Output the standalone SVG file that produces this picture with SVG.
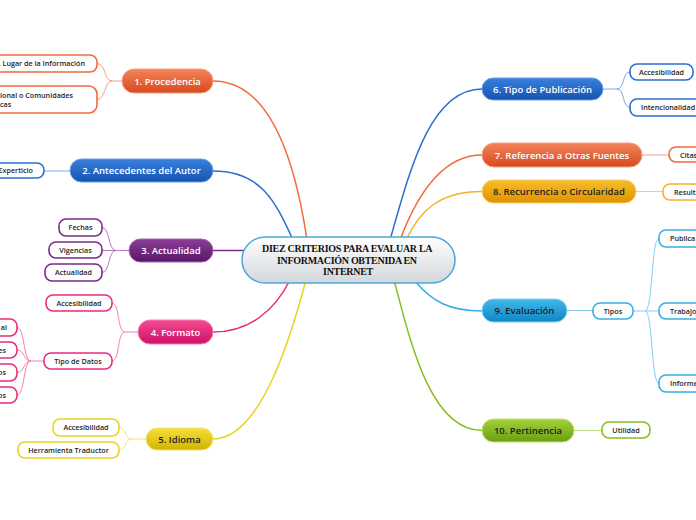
<svg xmlns="http://www.w3.org/2000/svg" width="696" height="520" viewBox="0 0 696 520">
<defs>
<linearGradient id="gOr" x1="0" y1="0" x2="0" y2="1"><stop offset="0" stop-color="#f3845a"/><stop offset="1" stop-color="#d9481f"/></linearGradient>
<linearGradient id="gBl" x1="0" y1="0" x2="0" y2="1"><stop offset="0" stop-color="#3a80dc"/><stop offset="1" stop-color="#1552b2"/></linearGradient>
<linearGradient id="gPu" x1="0" y1="0" x2="0" y2="1"><stop offset="0" stop-color="#8c3e98"/><stop offset="1" stop-color="#5a1565"/></linearGradient>
<linearGradient id="gPk" x1="0" y1="0" x2="0" y2="1"><stop offset="0" stop-color="#f24c92"/><stop offset="1" stop-color="#cf0f68"/></linearGradient>
<linearGradient id="gYe" x1="0" y1="0" x2="0" y2="1"><stop offset="0" stop-color="#f6df3a"/><stop offset="1" stop-color="#d3b300"/></linearGradient>
<linearGradient id="gAm" x1="0" y1="0" x2="0" y2="1"><stop offset="0" stop-color="#f8bd2a"/><stop offset="1" stop-color="#df9200"/></linearGradient>
<linearGradient id="gLb" x1="0" y1="0" x2="0" y2="1"><stop offset="0" stop-color="#42b8ec"/><stop offset="1" stop-color="#0d86c6"/></linearGradient>
<linearGradient id="gGr" x1="0" y1="0" x2="0" y2="1"><stop offset="0" stop-color="#a2d23a"/><stop offset="1" stop-color="#6c9e12"/></linearGradient>
<linearGradient id="gCe" x1="0" y1="0" x2="0" y2="1"><stop offset="0" stop-color="#ffffff"/><stop offset="1" stop-color="#d3d7da"/></linearGradient>
</defs>
<style>
.main text{font-family:"Open Sans","Noto Sans",sans-serif;font-weight:600;font-size:9.5px;text-anchor:middle}
.w{fill:#ffffff}
.d{fill:#1e1e1e}
.sub rect{fill:#ffffff;stroke-width:1.6}
.sub text{font-family:"Open Sans","Noto Sans",sans-serif;font-weight:600;font-size:7.2px;fill:#1e1e1e;text-anchor:middle}
.conn path{fill:none}
.m{stroke-width:1.5}
.s{stroke-width:1}
</style>

<g id="connectors" class="conn">
<path class="m" stroke="#f26a3b" d="M213,81 C270,81 295,160 307,240"/>
<path class="m" stroke="#2a6fd0" d="M213,171 C260,171 275,200 293,240"/>
<path class="m" stroke="#7a2a86" d="M213,250.5 H245"/>
<path class="m" stroke="#ea2a7e" d="M213,332 C250,332 275,310 290,280"/>
<path class="m" stroke="#e8d420" d="M213,439 C260,439 290,340 306,280"/>
<path class="m" stroke="#2a6fd0" d="M482,89 C430,89 410,170 390,240"/>
<path class="m" stroke="#f26a3b" d="M482,155 C440,155 415,200 400,240"/>
<path class="m" stroke="#f2b22a" d="M482,191.5 C440,191.5 420,210 406,240"/>
<path class="m" stroke="#36aee6" d="M482,311 C450,311 432,302 414,280"/>
<path class="m" stroke="#88bc22" d="M482,430.5 C430,430.5 410,340 394,280"/>

<g stroke="#f6a084">
<path class="s" d="M122,81 H112 C104,81 106,63.5 97,63.5"/>
<path class="s" d="M112,81 C104,81 106,99.5 97,99.5"/>
<path class="s" d="M642,155 H669"/>
</g>
<path class="s" stroke="#7ea6e6" d="M70,171 H44"/>
<g stroke="#b47cc0">
<path class="s" d="M129,250.5 H116 C108,250.5 110,227.5 102,227.5"/>
<path class="s" d="M116,250.5 H102"/>
<path class="s" d="M116,250.5 C108,250.5 110,272.5 102,272.5"/>
</g>
<g stroke="#f57fb0">
<path class="s" d="M138,332 H125 C117,332 120,303 112,303"/>
<path class="s" d="M125,332 C117,332 120,361 112,361"/>
<path class="s" d="M44,361 H31 C23,361 25,327.5 17,327.5"/>
<path class="s" d="M31,361 C23,361 25,350 17,350"/>
<path class="s" d="M31,361 C23,361 25,372.5 17,372.5"/>
<path class="s" d="M31,361 C23,361 25,395 17,395"/>
</g>
<g stroke="#f0e27a">
<path class="s" d="M146,439 H132 C124,439 127,427.5 119,427.5"/>
<path class="s" d="M132,439 C124,439 127,450 119,450"/>
</g>
<g stroke="#7ea6e6">
<path class="s" d="M603,89 H617 C625,89 622,72 630,72"/>
<path class="s" d="M617,89 C625,89 622,107.5 630,107.5"/>
</g>
<path class="s" stroke="#f8cc70" d="M636,191.5 H663"/>
<g stroke="#86cff0">
<path class="s" d="M567,310.5 H593"/>
<path class="s" d="M633,311 H645 C653,311 651,238.5 659,238.5"/>
<path class="s" d="M645,311 H659"/>
<path class="s" d="M645,311 C653,311 651,383.5 659,383.5"/>
</g>
<path class="s" stroke="#bcdc80" d="M574,430.5 H602"/>
</g>

<g id="center">
<rect x="242" y="237" width="213" height="46" rx="23" fill="url(#gCe)" stroke="#4aa6dc" stroke-width="1.5"/>
<text font-family="'Liberation Serif',serif" font-weight="bold" font-size="10px" letter-spacing="-0.3" fill="#111" text-anchor="middle">
<tspan x="348" y="252">DIEZ CRITERIOS PARA EVALUAR LA</tspan>
<tspan x="348" y="263.5">INFORMACIÓN OBTENIDA EN</tspan>
<tspan x="348" y="275">INTERNET</tspan>
</text>
</g>

<g id="n1" class="main"><rect x="122" y="69" width="91" height="24" rx="12" fill="url(#gOr)" stroke="#f6a080" stroke-width="1"/><text class="w" x="167.5" y="84.5">1. Procedencia</text></g>
<g id="n2" class="main"><rect x="70" y="159" width="143" height="23" rx="11.5" fill="url(#gBl)" stroke="#6c9fe6" stroke-width="1"/><text class="w" x="141.5" y="174">2. Antecedentes del Autor</text></g>
<g id="n3" class="main"><rect x="129" y="239" width="84" height="23" rx="11.5" fill="url(#gPu)" stroke="#a668b0" stroke-width="1"/><text class="w" x="171" y="254">3. Actualidad</text></g>
<g id="n4" class="main"><rect x="138" y="320" width="75" height="24" rx="12" fill="url(#gPk)" stroke="#f77fb0" stroke-width="1"/><text class="w" x="175.5" y="335.5">4. Formato</text></g>
<g id="n5" class="main"><rect x="146" y="428" width="67" height="22" rx="11" fill="url(#gYe)" stroke="#f6e57a" stroke-width="1"/><text class="d" x="179.5" y="442.5">5. Idioma</text></g>
<g id="n6" class="main"><rect x="482" y="78" width="121" height="22" rx="11" fill="url(#gBl)" stroke="#6c9fe6" stroke-width="1"/><text class="w" x="542.5" y="92.5">6. Tipo de Publicación</text></g>
<g id="n7" class="main"><rect x="482" y="143" width="160" height="24" rx="12" fill="url(#gOr)" stroke="#f6a080" stroke-width="1"/><text class="w" x="562" y="158.5">7. Referencia a Otras Fuentes</text></g>
<g id="n8" class="main"><rect x="482" y="180" width="154" height="23" rx="11.5" fill="url(#gAm)" stroke="#fad070" stroke-width="1"/><text class="d" x="559" y="195">8. Recurrencia o Circularidad</text></g>
<g id="n9" class="main"><rect x="482" y="299" width="85" height="23" rx="11.5" fill="url(#gLb)" stroke="#86d0f2" stroke-width="1"/><text class="d" x="524.5" y="314">9. Evaluación</text></g>
<g id="n10" class="main"><rect x="482" y="419" width="92" height="23" rx="11.5" fill="url(#gGr)" stroke="#c4e07c" stroke-width="1"/><text class="d" x="528" y="434">10. Pertinencia</text></g>

<g id="s1a" class="sub"><rect x="-20" y="55" width="117" height="17" rx="7" stroke="#f26a3b"/><text x="85" y="66" style="text-anchor:end">1. Lugar de la Información</text></g>
<g id="s1b" class="sub"><rect x="-20" y="86" width="117" height="27" rx="8" stroke="#f26a3b"/><text style="text-anchor:start"><tspan x="0" y="97.5">ional o Comunidades</tspan><tspan x="0" y="106.5">cas</tspan></text></g>
<g id="s2a" class="sub"><rect x="-20" y="163" width="64" height="15" rx="7" stroke="#2a6fd0"/><text x="33" y="173" style="text-anchor:end">Experticio</text></g>
<g id="s3a" class="sub"><rect x="59" y="219" width="43" height="17" rx="7" stroke="#7a2a86"/><text x="80.5" y="230">Fechas</text></g>
<g id="s3b" class="sub"><rect x="49" y="242" width="53" height="16" rx="7" stroke="#7a2a86"/><text x="75.5" y="252.5">Vigencias</text></g>
<g id="s3c" class="sub"><rect x="45" y="264" width="57" height="17" rx="7" stroke="#7a2a86"/><text x="73.5" y="275">Actualidad</text></g>
<g id="s4a" class="sub"><rect x="46" y="295" width="66" height="16" rx="7" stroke="#ea2a7e"/><text x="79" y="305.5">Accesibilidad</text></g>
<g id="s4b" class="sub"><rect x="44" y="353" width="68" height="16" rx="7" stroke="#ea2a7e"/><text x="78" y="363.5">Tipo de Datos</text></g>
<g id="s4b1" class="sub"><rect x="-30" y="319" width="47" height="17" rx="7" stroke="#ea2a7e"/><text x="7" y="330" style="text-anchor:end">al</text></g>
<g id="s4b2" class="sub"><rect x="-30" y="342" width="47" height="16" rx="7" stroke="#ea2a7e"/><text x="6" y="352.5" style="text-anchor:end">es</text></g>
<g id="s4b3" class="sub"><rect x="-30" y="364" width="47" height="17" rx="7" stroke="#ea2a7e"/><text x="6" y="375" style="text-anchor:end">os</text></g>
<g id="s4b4" class="sub"><rect x="-30" y="387" width="47" height="16" rx="7" stroke="#ea2a7e"/><text x="6" y="397.5" style="text-anchor:end">os</text></g>
<g id="s5a" class="sub"><rect x="53" y="419" width="66" height="17" rx="7" stroke="#e8d420"/><text x="86" y="430">Accesibilidad</text></g>
<g id="s5b" class="sub"><rect x="18" y="442" width="101" height="16" rx="7" stroke="#e8d420"/><text x="68.5" y="452.5">Herramienta Traductor</text></g>
<g id="s6a" class="sub"><rect x="630" y="64" width="63" height="16" rx="7" stroke="#2a6fd0"/><text x="661.5" y="74.5">Accesibilidad</text></g>
<g id="s6b" class="sub"><rect x="630" y="99" width="75" height="17" rx="7" stroke="#2a6fd0"/><text x="641" y="110" style="text-anchor:start">Intencionalidad</text></g>
<g id="s7a" class="sub"><rect x="669" y="147" width="40" height="15" rx="7" stroke="#f26a3b"/><text x="680" y="157.5" style="text-anchor:start">Citas</text></g>
<g id="s8a" class="sub"><rect x="663" y="184" width="50" height="16" rx="7" stroke="#f2b22a"/><text x="674" y="194.5" style="text-anchor:start">Resulta</text></g>
<g id="s9a" class="sub"><rect x="593" y="303" width="40" height="16" rx="7" stroke="#36aee6"/><text x="613" y="313.5">Tipos</text></g>
<g id="s9a1" class="sub"><rect x="659" y="230" width="50" height="17" rx="7" stroke="#36aee6"/><text x="670" y="241" style="text-anchor:start">Publica</text></g>
<g id="s9a2" class="sub"><rect x="659" y="303" width="50" height="16" rx="7" stroke="#36aee6"/><text x="670" y="313.5" style="text-anchor:start">Trabajos</text></g>
<g id="s9a3" class="sub"><rect x="659" y="375" width="50" height="17" rx="7" stroke="#36aee6"/><text x="670" y="386" style="text-anchor:start">Informe</text></g>
<g id="s10a" class="sub"><rect x="602" y="422" width="48" height="16" rx="7" stroke="#88bc22"/><text x="626" y="432.5">Utilidad</text></g>
</svg>
